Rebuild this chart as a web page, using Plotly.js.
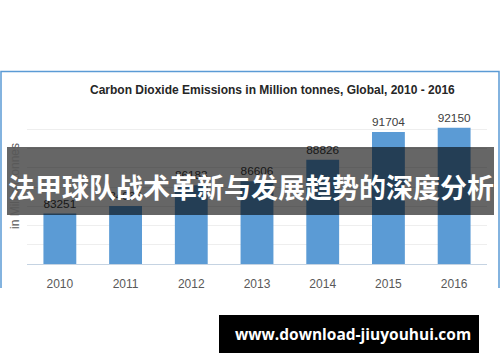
<!DOCTYPE html>
<html><head><meta charset="utf-8">
<script src="https://cdn.plot.ly/plotly-3.0.1.min.js"></script>
<style>html,body{margin:0;padding:0;background:#fff;}#c{width:500px;height:362px;}</style>
</head><body><div id="c"></div>
<script>
var years = ["2010","2011","2012","2013","2014","2015","2016"];
var emissions = [83251, 84036, 86183, 86606, 88826, 91704, 92150];
var labels = ["83251","84036","86183","86606","88826","91704","92150"];
var chartTitle = "Carbon Dioxide Emissions in Million tonnes, Global, 2010 - 2016";
var yTitle = "in Million tonnes";
var bannerText = "法甲球队战术革新与发展趋势的深度分析";
var watermark = "www.download-jiuyouhui.com";

var L = 27, R = 487, T = 110, B = 264;
function px(x){ return (x - L) / (R - L); }
function py(y){ return (B - y) / (B - T); }

var trace = {
  type: "bar", x: years, y: emissions, text: labels,
  textposition: "outside", cliponaxis: false,
  textfont: {family: "Liberation Sans, Arial, sans-serif", size: 12.5, color: "#404040"},
  marker: {color: "#5b9bd5"}, hoverinfo: "none"
};

var layout = {
  width: 500, height: 362,
  margin: {l: L, r: 500 - R, t: T, b: 362 - B},
  paper_bgcolor: "#ffffff", plot_bgcolor: "#ffffff",
  bargap: 0.5, showlegend: false,
  font: {family: "Liberation Sans, Arial, sans-serif"},
  xaxis: {type: "category", showgrid: false, zeroline: false, showline: true,
    linecolor: "#c5d3e2", linewidth: 1, ticks: "", ticklabelstandoff: 9,
    tickfont: {size: 12, color: "#595959"}, fixedrange: true},
  yaxis: {range: [78000, 94000], dtick: 2000, tick0: 78000, showticklabels: false,
    gridcolor: "#eeeeee", gridwidth: 1, zeroline: false, showline: false, ticks: "", fixedrange: true},
  shapes: [
    {type: "path", xref: "paper", yref: "paper",
     path: "M " + px(1) + "," + py(288) + " L " + px(1) + "," + py(71.5) + " L " + px(499) + "," + py(71.5) + " L " + px(499) + "," + py(288),
     line: {color: "#5b9bd5", width: 1.5}},
    {type: "rect", xref: "paper", yref: "paper", layer: "above",
     x0: px(7), x1: px(494), y0: py(215), y1: py(147),
     fillcolor: "rgba(0,0,0,0.6)", line: {width: 0}},
    {type: "rect", xref: "paper", yref: "paper", layer: "above",
     x0: px(219), x1: px(479), y0: py(353), y1: py(315),
     fillcolor: "#000000", line: {width: 0}}
  ],
  annotations: [
    {xref: "paper", yref: "paper", x: px(272), y: py(90), text: "<b>" + chartTitle + "</b>",
     showarrow: false, xanchor: "center", yanchor: "middle",
     font: {family: "Liberation Sans, Arial, sans-serif", size: 12, color: "#262626"}},
    {xref: "paper", yref: "paper", x: px(15), y: py(186), text: yTitle, textangle: -90,
     showarrow: false, xanchor: "center", yanchor: "middle",
     font: {size: 12, color: "#595959"}},
    {xref: "paper", yref: "paper", x: px(250.5), y: py(186), text: "<b>" + bannerText + "</b>",
     showarrow: false, xanchor: "center", yanchor: "middle",
     font: {family: "Noto Sans CJK SC, sans-serif", size: 27, color: "#ffffff"}},
    {xref: "paper", yref: "paper", x: px(353), y: py(334), text: "<b>" + watermark + "</b>",
     showarrow: false, xanchor: "center", yanchor: "middle",
     font: {family: "Open Sans, sans-serif", size: 15.5, color: "#ffffff"}}
  ]
};

Plotly.newPlot("c", [trace], layout, {staticPlot: true, displayModeBar: false});
</script></body></html>
